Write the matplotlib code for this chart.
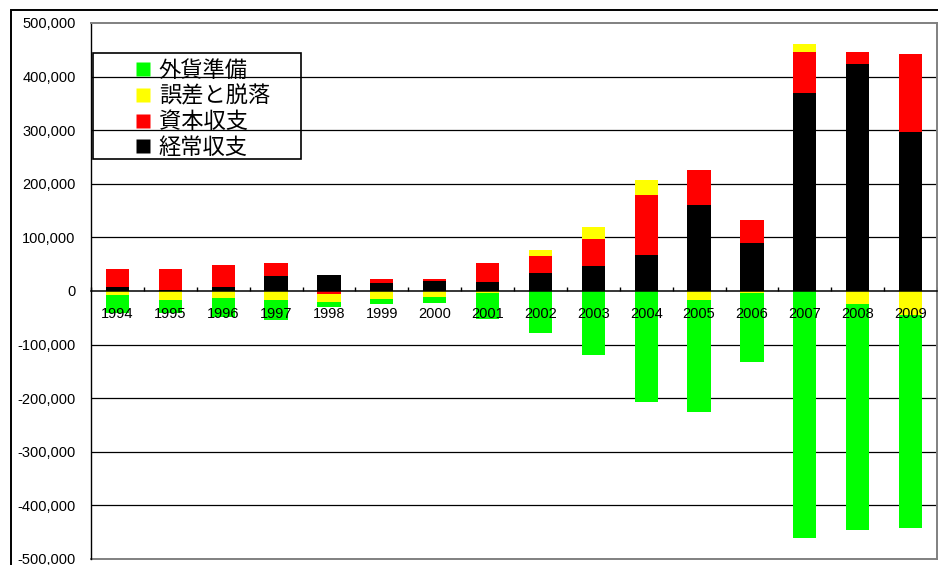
import numpy as np
import matplotlib.pyplot as plt
from matplotlib.lines import Line2D
from matplotlib.patches import Rectangle
from matplotlib.ticker import FixedLocator, FuncFormatter

plt.rcParams['font.family'] = ['Liberation Sans', 'Noto Sans CJK JP', 'DejaVu Sans']

# balance of payments
years = ['1994', '1995', '1996', '1997', '1998', '1999', '2000', '2001',
         '2002', '2003', '2004', '2005', '2006', '2007', '2008', '2009']
current = [7000, 1600, 7200, 28000, 30000, 15000, 19000, 17000,
           34000, 46000, 68000, 160000, 90000, 370000, 424000, 296000]
capital = [34000, 39000, 41000, 24500, -5000, 8000, 4000, 35500,
           32000, 51500, 111000, 65000, 42000, 75000, 22000, 146000]
errors = [-8000, -16000, -13000, -16000, -15500, -14000, -11500, -3000,
          11000, 22000, 29000, -16000, -4000, 16000, -25000, -44000]
reserves = [-33000, -25000, -35000, -37500, -8500, -9500, -11500, -50000,
            -77500, -119500, -208000, -209000, -128000, -461000, -421000, -398000]

series_names = ['経常収支', '資本収支', '誤差と脱落', '外貨準備']
series_colors = ['#000000', '#ff0000', '#ffff00', '#00ff00']


def draw_chart():
    fig = plt.figure(figsize=(9.38, 5.65), dpi=100)
    ax = fig.add_axes([91 / 938, 6 / 565, 846 / 938, 536 / 565])

    x = np.arange(len(years))
    pos_bottom = np.zeros(len(years))
    neg_bottom = np.zeros(len(years))

    # stack positives upward and negatives downward, in series order
    for vals, color in zip([current, capital, errors, reserves], series_colors):
        v = np.array(vals, dtype=float)
        bottom = np.where(v >= 0, pos_bottom, neg_bottom)
        ax.bar(x, v, bottom=bottom, width=0.44, color=color, linewidth=0, zorder=1)
        pos_bottom += np.where(v >= 0, v, 0)
        neg_bottom += np.where(v < 0, v, 0)

    ax.set_xlim(-0.5, len(years) - 0.5)
    ax.set_ylim(-500000, 500000)
    ax.set_yticks(np.arange(-500000, 500001, 100000))
    ax.yaxis.set_major_formatter(FuncFormatter(lambda v, p: f'{v:,.0f}'))
    ax.tick_params(axis='y', length=0, pad=11, labelsize=10.5)

    # gridlines behind the bars
    for yv in np.arange(-400000, 400001, 100000):
        if yv != 0:
            ax.axhline(yv, color='black', linewidth=0.9, zorder=0.5)

    # category axis sits on the zero line
    ax.spines['bottom'].set_position(('data', 0))
    ax.spines['bottom'].set_linewidth(1.1)
    ax.spines['left'].set_color('black')
    ax.spines['left'].set_linewidth(1.0)
    for side in ['top', 'right']:
        ax.spines[side].set_color('#808080')
        ax.spines[side].set_linewidth(1.4)
    ax.add_line(Line2D([0, 1], [0, 0], transform=ax.transAxes,
                       color='#808080', linewidth=1.4, clip_on=False))

    ax.xaxis.set_major_locator(FixedLocator(np.arange(-0.5, len(years), 1)))
    ax.xaxis.set_minor_locator(FixedLocator(x))
    ax.set_xticklabels([], minor=False)
    ax.set_xticklabels(years, minor=True)
    ax.tick_params(axis='x', which='major', direction='in', length=2.8, width=1)
    ax.tick_params(axis='x', which='minor', length=0, pad=11.5, labelsize=10.5)

    # legend, green on top like the original
    handles = [Line2D([], [], marker='s', linestyle='none', markersize=10.5,
                      markerfacecolor=c, markeredgecolor='none')
               for c in series_colors[::-1]]
    fig.legend(handles, series_names[::-1], loc='upper left',
               bbox_to_anchor=(132 / 938, 1 - 61 / 565), frameon=False,
               borderpad=0, borderaxespad=0, handlelength=1.0,
               handletextpad=0.2, labelspacing=0.2, fontsize=16)
    fig.add_artist(Rectangle((93 / 938, 1 - 159 / 565), 208 / 938, 106 / 565,
                             transform=fig.transFigure, facecolor='none',
                             edgecolor='black', linewidth=1.2))

    # outer chart border
    fig.add_artist(Rectangle((11 / 938, -0.1), 1.2, 1 - 10 / 565 + 0.1,
                             transform=fig.transFigure, facecolor='none',
                             edgecolor='black', linewidth=1.4, clip_on=False))

    fig.savefig('out.png', dpi=100)
    plt.close(fig)


if __name__ == "__main__":
    draw_chart()
